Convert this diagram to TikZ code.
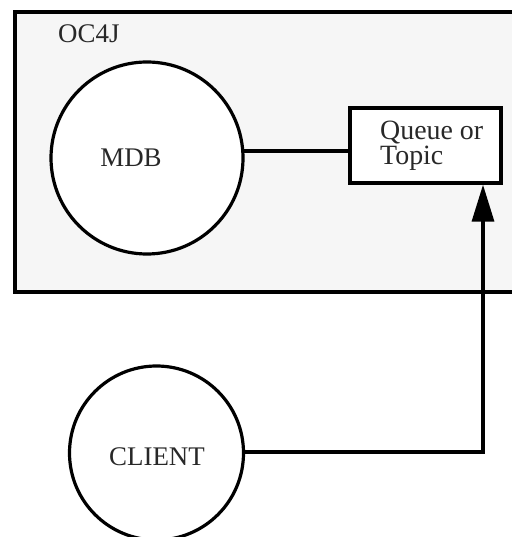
\documentclass[tikz,border=0pt]{standalone}
\usepackage{fontspec}
\setmainfont{Liberation Serif}
\usetikzlibrary{arrows.meta}
\definecolor{panelgrey}{RGB}{246,246,246}
\definecolor{textgrey}{RGB}{40,40,40}
\tikzset{
  x=1bp, y=-1bp,
  lbl/.style={font=\fontsize{27}{25}\selectfont, text=textgrey, inner sep=0pt},
  qlbl/.style={font=\fontsize{28}{26}\selectfont, text=textgrey, inner sep=0pt},
  bubble/.style={circle, draw=black, line width=3.2bp, fill=white, inner sep=0pt},
  qbox/.style={rectangle, draw=black, line width=3.4bp, fill=white, inner sep=0pt},
  wire/.style={draw=black, line width=3.4bp},
  container/.style={draw=black, line width=4bp, fill=panelgrey}
}
\begin{document}
\begin{tikzpicture}
\useasboundingbox[fill=white] (0,0) rectangle (512,537);
\begin{scope}
\clip (0,0) rectangle (512,537);
% OC4J container
\path[container] (15,12) rectangle (540,292);
\node[lbl, anchor=base west] (oc4j) at (58,43) {OC4J};
% MDB
\node[bubble, minimum size=192bp] (mdb) at (147,158) {};
\node[lbl, anchor=base] (mdbtext) at (131,167) {MDB};
% Queue or Topic
\node[qbox, minimum width=151bp, minimum height=75bp] (qt) at (425.5,145.5) {};
\node[qlbl, anchor=base west, align=left] (qttext) at (380,165) {Queue or\\Topic};
% CLIENT
\node[bubble, minimum size=174bp] (client) at (156.5,453) {};
\node[lbl, anchor=base] (clienttext) at (157,465) {CLIENT};
% connectors
\path[wire] (mdb.4) -- (mdb.4 -| qt.west);
\coordinate (turn) at (483,452);
\path[wire, -{Triangle[length=37bp, width=22bp]}, line join=miter] (client.east |- turn) -- (turn) -- (turn |- qt.south);
\end{scope}
\end{tikzpicture}
\end{document}
